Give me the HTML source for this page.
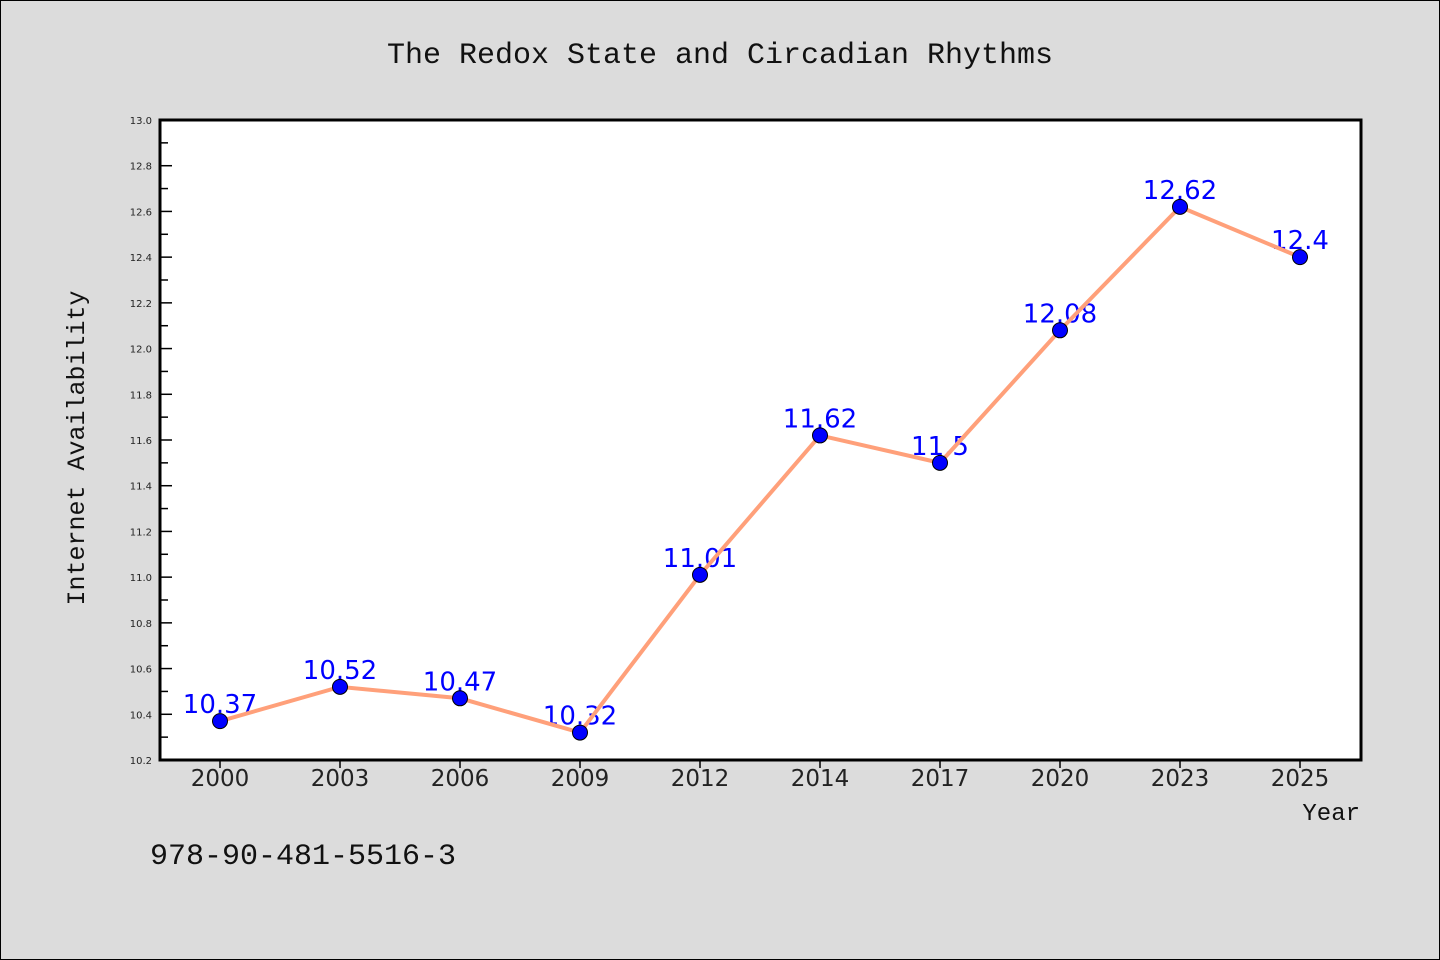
<!DOCTYPE html>
<html><head><meta charset="utf-8"><style>
body{margin:0;background:#dcdcdc;}
svg{display:block;}
</style></head><body>
<svg width="1440" height="960" xmlns="http://www.w3.org/2000/svg">
<rect x="0.5" y="0.5" width="1439" height="959" fill="#dcdcdc" stroke="#000"/>
<text x="720" y="63" text-anchor="middle" font-family="Liberation Mono, monospace" font-size="30" fill="#111">The Redox State and Circadian Rhythms</text>
<rect x="160" y="120" width="1201" height="640" fill="#fff"/>
<g id="axes"></g>
<g id="marks"></g>
<rect x="160" y="120" width="1201" height="640" fill="none" stroke="#000" stroke-width="3"/>
<text transform="translate(84,448) rotate(-90)" text-anchor="middle" font-family="Liberation Mono, monospace" font-size="25" fill="#111">Internet Availability</text>
<text x="1360" y="820" text-anchor="end" font-family="Liberation Mono, monospace" font-size="24" fill="#111">Year</text>
<text x="150" y="864" font-family="Liberation Mono, monospace" font-size="30" fill="#111">978-90-481-5516-3</text>
</svg>
<script>
const categories=["2000","2003","2006","2009","2012","2014","2017","2020","2023","2025"];
const values=[10.37,10.52,10.47,10.32,11.01,11.62,11.5,12.08,12.62,12.4];
const valueLabels=["10.37","10.52","10.47","10.32","11.01","11.62","11.5","12.08","12.62","12.4"];
const yTicks=[10.2,10.4,10.6,10.8,11.0,11.2,11.4,11.6,11.8,12.0,12.2,12.4,12.6,12.8,13.0];
const yMin=10.2,yMax=13.0;
const NS="http://www.w3.org/2000/svg";
const X0=160,X1=1361,Y0=760,Y1=120;
function xs(i){return 220+i*120;}
function ys(v){return Y0-(v-yMin)/(yMax-yMin)*(Y0-Y1);}
function mk(t,a,p){const e=document.createElementNS(NS,t);for(const k in a)e.setAttribute(k,a[k]);p.appendChild(e);return e;}
const ax=document.getElementById('axes'),mg=document.getElementById('marks');
yTicks.forEach((t,i)=>{
  const y=ys(t);
  const l=mk('line',{x1:X0,x2:X0+12,y1:y,y2:y,stroke:'#000','stroke-width':1.5},ax);
  
  
  const tx=mk('text',{x:152,y:y+4,'text-anchor':'end','font-family':'DejaVu Sans, sans-serif','font-size':10,fill:'#222'},ax);
  tx.textContent=t.toFixed(1);
  
  
  if(i<yTicks.length-1){
    const ym=ys(t+0.1);
    const m=mk('line',{x1:X0,x2:X0+8,y1:ym,y2:ym,stroke:'#000','stroke-width':1.5},ax);
    
    
  }
});
categories.forEach((c,i)=>{
  const x=xs(i);
  const l=mk('line',{x1:x,x2:x,y1:Y0,y2:Y0+8,stroke:'#000','stroke-width':1.5},ax);
  
  
  const tx=mk('text',{x:x,y:786,'text-anchor':'middle','font-family':'DejaVu Sans, sans-serif','font-size':23,fill:'#222'},ax);
  tx.textContent=c;
  
  
});
values.forEach((v,i)=>{
  const t=mk('text',{x:xs(i),y:ys(v)-8,'text-anchor':'middle','font-family':'DejaVu Sans, sans-serif','font-size':26,fill:'#0000ff'},mg);
  t.textContent=valueLabels[i];
  
  
});
const pl=mk('polyline',{points:values.map((v,i)=>xs(i)+','+ys(v)).join(' '),fill:'none',stroke:'#ffa07a','stroke-width':4},mg);


values.forEach((v,i)=>{
  const c=mk('circle',{cx:xs(i),cy:ys(v),r:7.5,fill:'#0000ff',stroke:'#000','stroke-width':1},mg);
  
  
});
</script>
</body></html>
